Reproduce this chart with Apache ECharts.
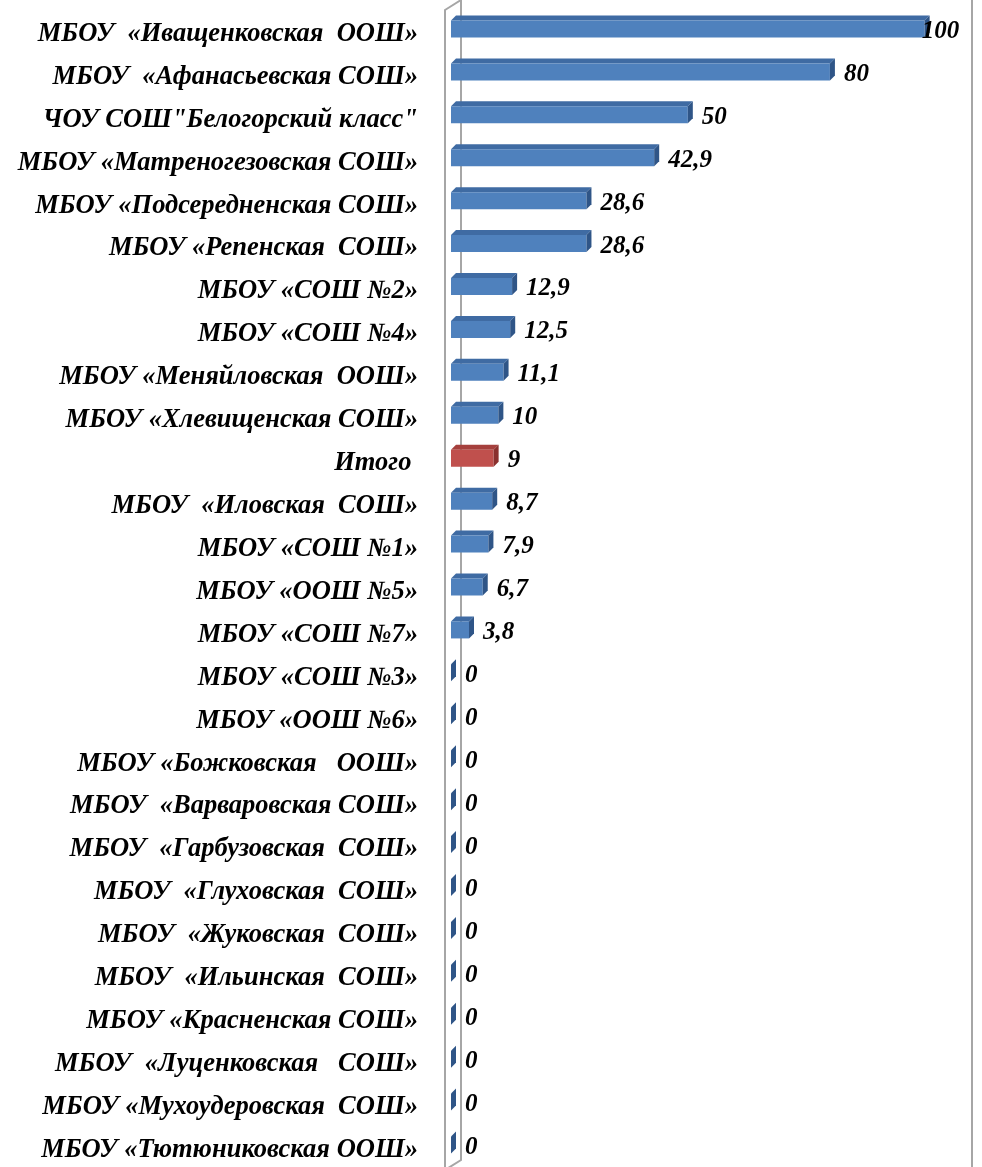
<!DOCTYPE html>
<html>
<head>
<meta charset="utf-8">
<script src="https://cdn.jsdelivr.net/npm/echarts@6/dist/echarts.min.js"></script>
<style>
html,body{margin:0;padding:0;background:#fff;}
#chart{width:982px;height:1167px;}
</style>
</head>
<body>
<div id="chart"></div>
<script>
const categories = [
  'МБОУ  «Иващенковская  ООШ»',
  'МБОУ  «Афанасьевская СОШ»',
  'ЧОУ СОШ"Белогорский класс"',
  'МБОУ «Матреногезовская СОШ»',
  'МБОУ «Подсередненская СОШ»',
  'МБОУ «Репенская  СОШ»',
  'МБОУ «СОШ №2»',
  'МБОУ «СОШ №4»',
  'МБОУ «Меняйловская  ООШ»',
  'МБОУ «Хлевищенская СОШ»',
  'Итого ',
  'МБОУ  «Иловская  СОШ»',
  'МБОУ «СОШ №1»',
  'МБОУ «ООШ №5»',
  'МБОУ «СОШ №7»',
  'МБОУ «СОШ №3»',
  'МБОУ «ООШ №6»',
  'МБОУ «Божковская   ООШ»',
  'МБОУ  «Варваровская СОШ»',
  'МБОУ  «Гарбузовская  СОШ»',
  'МБОУ  «Глуховская  СОШ»',
  'МБОУ  «Жуковская  СОШ»',
  'МБОУ  «Ильинская  СОШ»',
  'МБОУ «Красненская СОШ»',
  'МБОУ  «Луценковская   СОШ»',
  'МБОУ «Мухоудеровская  СОШ»',
  'МБОУ «Тютюниковская ООШ»'
];
const values = [100, 80, 50, 42.9, 28.6, 28.6, 12.9, 12.5, 11.1, 10, 9, 8.7, 7.9, 6.7, 3.8, 0, 0, 0, 0, 0, 0, 0, 0, 0, 0, 0, 0];
const highlightIndex = 10;

const FONT = '"Liberation Serif", "Times New Roman", serif';
const blue = {front: '#4f81bd', top: '#3f6ba3', side: '#2f5587'};
const red = {front: '#c0504d', top: '#a5403d', side: '#8a302e'};

const chart = echarts.init(document.getElementById('chart'));

function fmt(v) { return String(v).replace('.', ','); }

function renderItem(params, api) {
  const v = api.value(0);
  const idx = api.value(1);
  const p0 = api.coord([0, idx]);
  const p1 = api.coord([v, idx]);
  const h = 17, dx = 5, dy = 5;
  const y = p0[1] - 9;
  const x0 = p0[0], x1 = p1[0];
  const c = idx === highlightIndex ? red : blue;
  const dist = v >= 100 ? -8 : 9;
  return {
    type: 'group',
    children: [
      {type: 'polygon', shape: {points: [[x0, y], [x0 + dx, y - dy], [x1 + dx, y - dy], [x1, y]]}, style: {fill: c.top}},
      {type: 'rect', shape: {x: x0, y: y, width: x1 - x0, height: h}, style: {fill: c.front}},
      {type: 'polygon', shape: {points: [[x1, y], [x1 + dx, y - dy], [x1 + dx, y + h - dy], [x1, y + h]]},
        style: {fill: c.side},
        textContent: {style: {text: fmt(v), font: 'italic bold 25px ' + FONT, fill: '#000'}},
        textConfig: {position: 'right', distance: dist, offset: [0, 5]}
      }
    ]
  };
}

chart.setOption({
  animation: false,
  grid: {left: 451, right: 10, top: 8, bottom: 0, containLabel: false},
  xAxis: {type: 'value', min: 0, max: 110, show: false},
  yAxis: {
    type: 'category', data: categories, inverse: true,
    axisLine: {show: false}, axisTick: {show: false},
    axisLabel: {margin: 33, color: '#000', fontFamily: FONT, fontStyle: 'italic', fontWeight: 'bold', fontSize: 26.5,
      verticalAlign: 'top', lineHeight: 9}
  },
  series: [{
    type: 'custom',
    renderItem: renderItem,
    encode: {x: 0, y: 1},
    data: values.map((v, i) => [v, i]),
    z: 10
  }]
});

const xz = chart.convertToPixel({xAxisIndex: 0}, 0);
const xm = chart.convertToPixel({xAxisIndex: 0}, 110);
chart.setOption({
  graphic: [
    {type: 'polygon', z: 1, shape: {points: [[xz - 6, 10], [xz + 10, 0], [xz + 10, 1160], [xz - 6, 1170]]},
      style: {fill: '#fff', stroke: '#a6a6a6', lineWidth: 2}},
    {type: 'line', z: 1, shape: {x1: xm, y1: 0, x2: xm, y2: 1167}, style: {stroke: '#a6a6a6', lineWidth: 2}}
  ]
});
</script>
</body>
</html>
